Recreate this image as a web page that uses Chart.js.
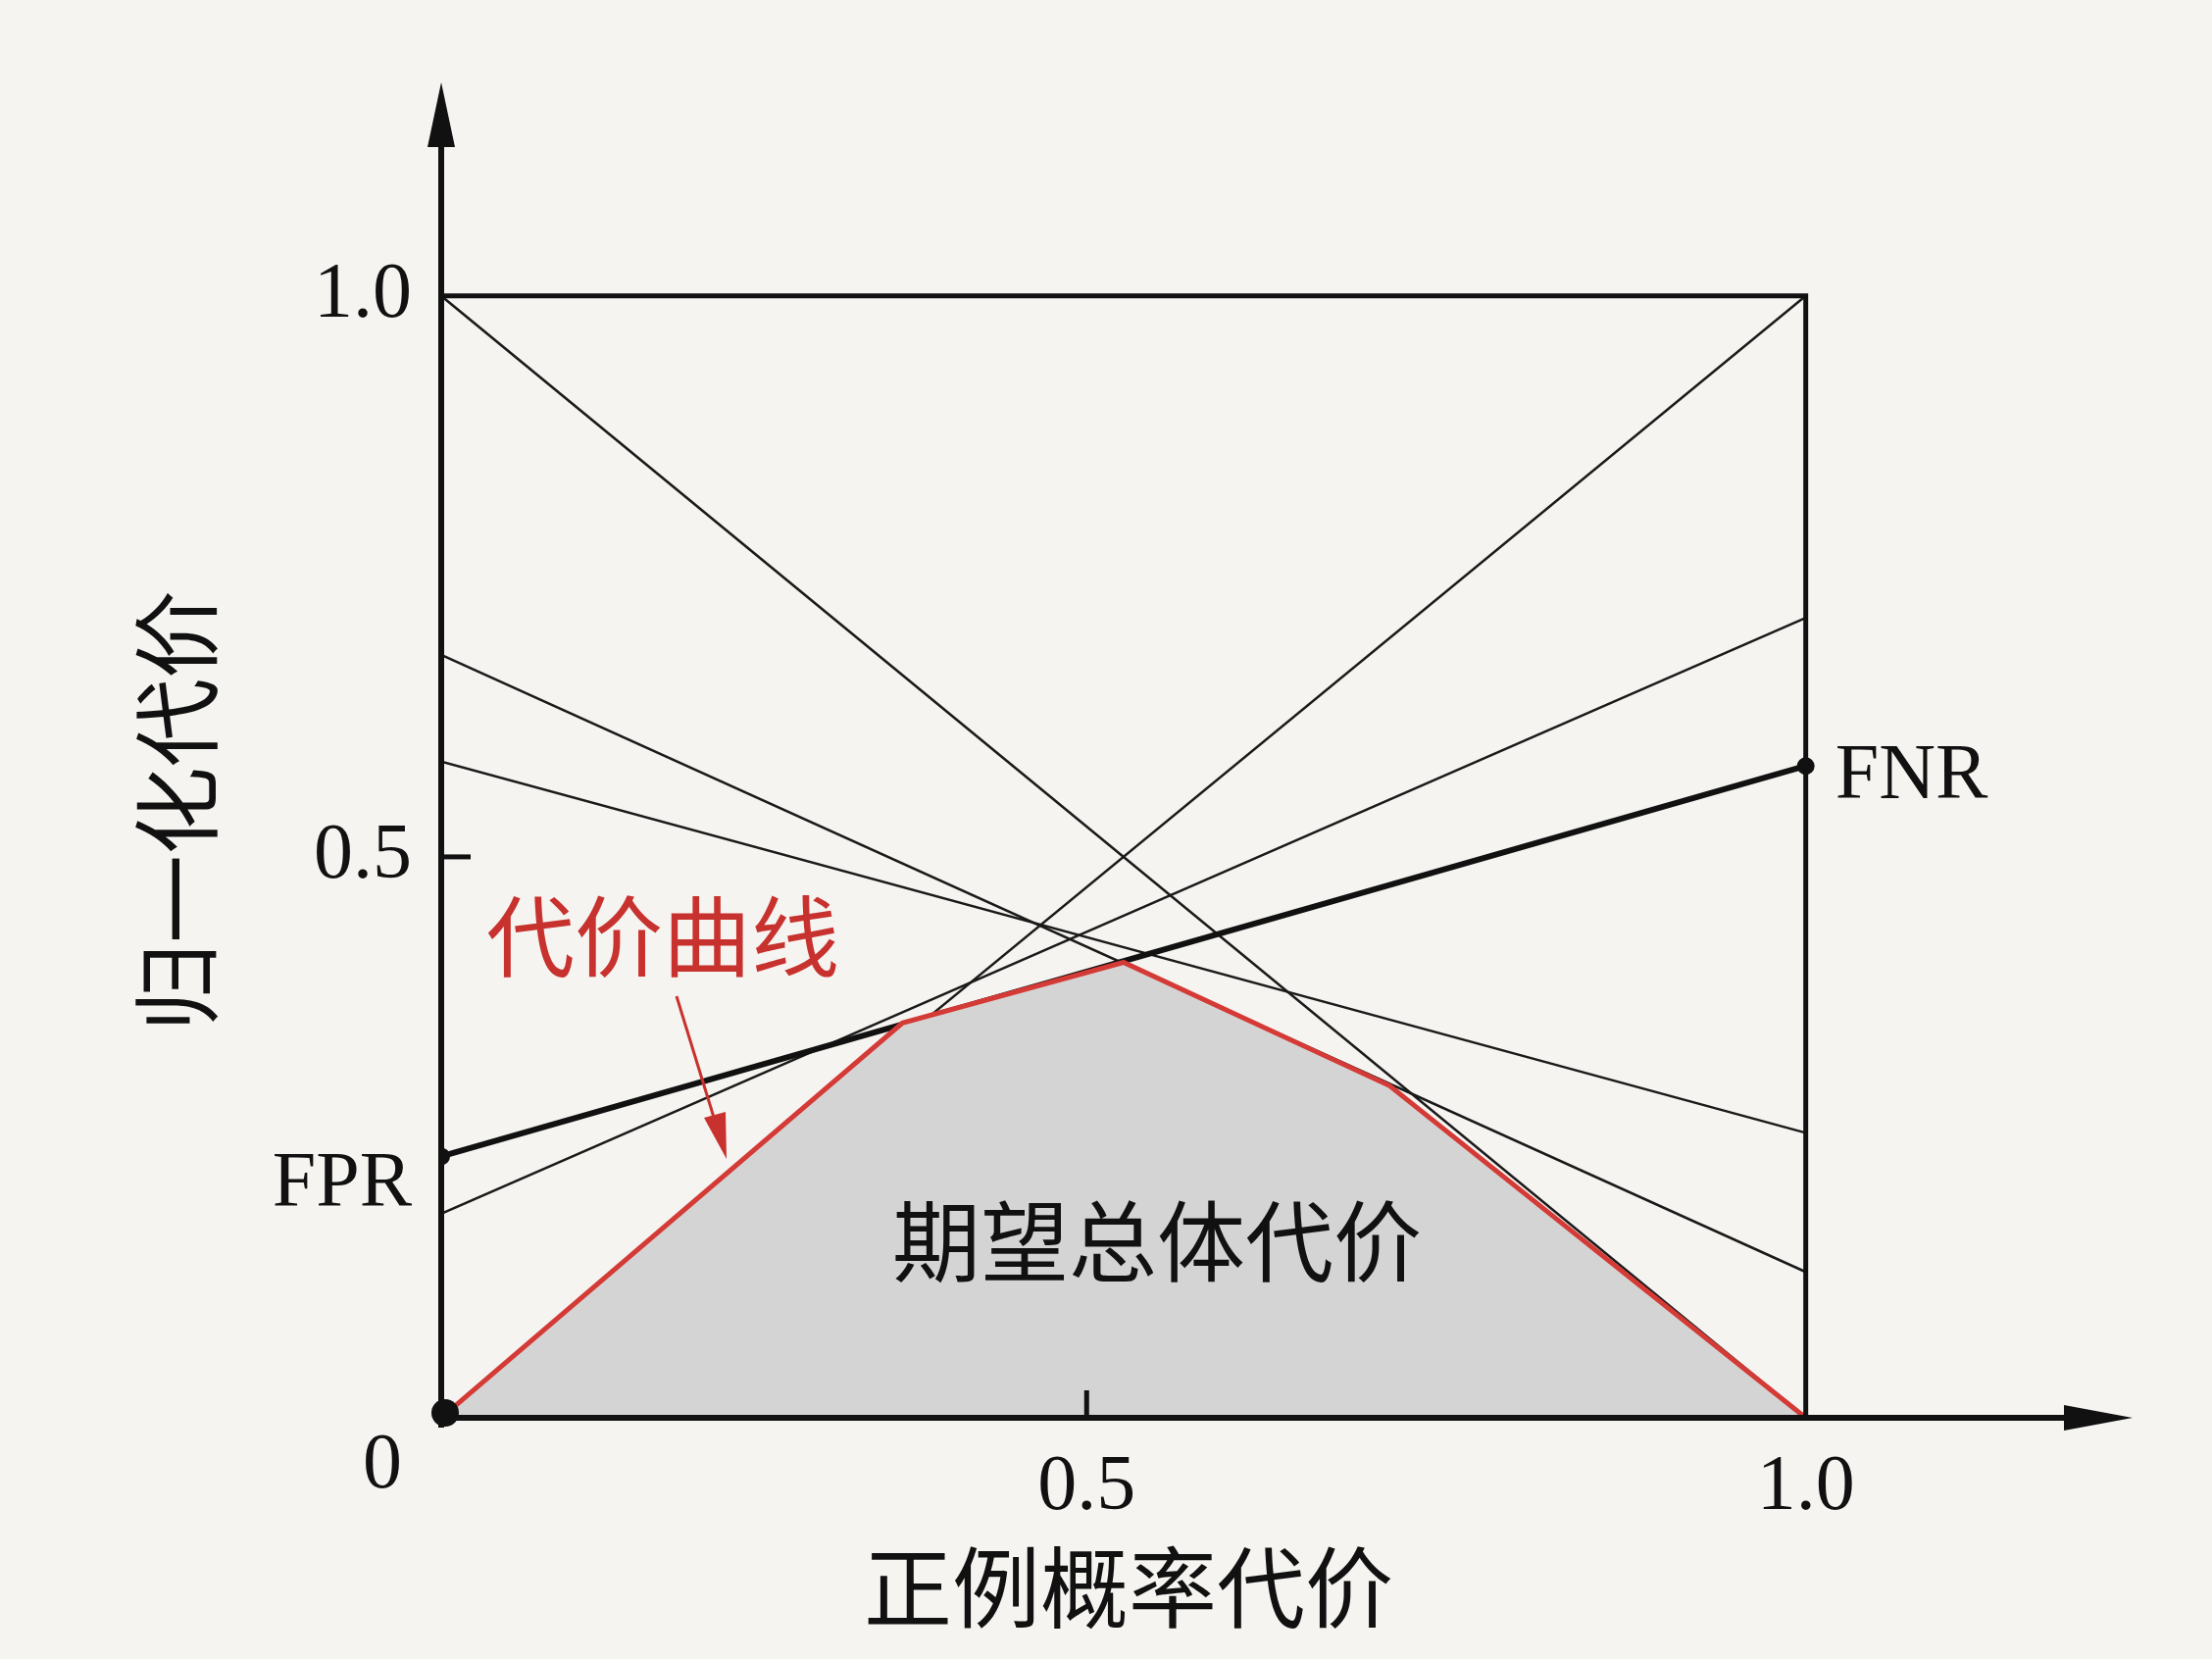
<!DOCTYPE html>
<html>
<head>
<meta charset="utf-8">
<script src="https://cdn.jsdelivr.net/npm/chart.js@4.4.1/dist/chart.umd.min.js"></script>
<style>
  html, body { margin: 0; padding: 0; background: #f5f4f1; }
  #wrap { width: 2256px; height: 1692px; }
</style>
</head>
<body>
<div id="wrap"><canvas id="c"></canvas></div>
<script>
// thin cost lines: [y at x=0, y at x=1]
const thinLines = [
    [1.0, 0.0],
    [0.0, 1.0],
    [0.68, 0.13],
    [0.585, 0.254],
    [0.182, 0.713]
];
// highlighted classifier (FPR -> FNR)
const fprValue = 0.233;
const fnrValue = 0.581;
// lower envelope: the cost curve
const curveX = [0, 0.338, 0.50, 0.695, 1.0];
const curveY = [0, 0.352, 0.406, 0.296, 0];
const xTicks = ['0.5', '1.0'];
const xTickVals = [0.473, 1.0];
const yTicks = ['1.0', '0.5'];
const yTickVals = [1.0, 0.5];

const datasets = [];
thinLines.forEach(l => datasets.push({
    data: [{x: 0, y: l[0]}, {x: 1, y: l[1]}],
    borderColor: '#1a1a1a', borderWidth: 2.5, pointRadius: 0, fill: false, order: 3
}));
datasets.push({
    data: [{x: 0, y: fprValue}, {x: 1, y: fnrValue}],
    borderColor: '#111', borderWidth: 6, pointRadius: 9,
    pointBackgroundColor: '#111', pointBorderWidth: 0, fill: false, order: 2
});
// cost curve drawn on top, its fill hides the lines underneath
datasets.push({
    data: curveX.map((x, i) => ({x, y: curveY[i]})),
    borderColor: '#d43a36', borderWidth: 5, fill: 'origin',
    backgroundColor: '#d5d4d4', pointRadius: 0, order: 1
});
// frame: top edge and right edge
datasets.push({
    data: [{x: 0, y: 1}, {x: 1, y: 1}, {x: 1, y: 0}],
    borderColor: '#111', borderWidth: 5, pointRadius: 0, fill: false, order: 0
});

const serif = '"Liberation Serif", "DejaVu Serif", serif';
const cjk = '"Noto Sans CJK SC", sans-serif';

const decor = {
    id: 'decor',
    afterDraw(chart) {
        const {ctx, scales: {x, y}} = chart;
        const x0 = x.getPixelForValue(0), y0 = y.getPixelForValue(0);
        ctx.save();
        ctx.strokeStyle = '#111'; ctx.fillStyle = '#111'; ctx.lineWidth = 6;
        // axes
        ctx.beginPath(); ctx.moveTo(x0, y0 + 10); ctx.lineTo(x0, 120); ctx.stroke();
        ctx.beginPath(); ctx.moveTo(x0 - 5, y0); ctx.lineTo(2140, y0); ctx.stroke();
        ctx.beginPath(); ctx.moveTo(x0, 84); ctx.lineTo(x0 - 14, 150); ctx.lineTo(x0 + 14, 150); ctx.fill();
        ctx.beginPath(); ctx.moveTo(2175, y0); ctx.lineTo(2105, y0 - 13); ctx.lineTo(2105, y0 + 13); ctx.fill();
        // origin dot
        ctx.beginPath(); ctx.arc(x0 + 4, y0 - 5, 14, 0, Math.PI * 2); ctx.fill();
        // ticks
        ctx.lineWidth = 5;
        const ym = y.getPixelForValue(0.5);
        ctx.beginPath(); ctx.moveTo(x0, ym); ctx.lineTo(x0 + 30, ym); ctx.stroke();
        const xm = x.getPixelForValue(xTickVals[0]);
        ctx.beginPath(); ctx.moveTo(xm, y0); ctx.lineTo(xm, y0 - 28); ctx.stroke();
        // tick labels
        ctx.font = '80px ' + serif; ctx.textBaseline = 'middle';
        ctx.textAlign = 'right';
        yTicks.forEach((t, i) => ctx.fillText(t, x0 - 30, y.getPixelForValue(yTickVals[i])));
        ctx.fillText('0', x0 - 40, y0 + 50);
        ctx.textAlign = 'center';
        xTicks.forEach((t, i) => ctx.fillText(t, x.getPixelForValue(xTickVals[i]), y0 + 72));
        ctx.textAlign = 'right';
        ctx.fillText('FPR', x0 - 30, y.getPixelForValue(fprValue) + 30);
        ctx.textAlign = 'left';
        ctx.fillText('FNR', x.getPixelForValue(1) + 30, y.getPixelForValue(fnrValue) + 12);
        // CJK labels
        ctx.font = '90px ' + cjk; ctx.textAlign = 'center';
        ctx.fillText('期望总体代价', 1180, 1266);
        ctx.fillText('正例概率代价', 1151, 1619);
        ctx.fillStyle = '#c8322e';
        ctx.fillText('代价曲线', 676, 955);
        ctx.strokeStyle = '#c8322e'; ctx.lineWidth = 3;
        ctx.beginPath(); ctx.moveTo(690, 1016); ctx.lineTo(738, 1172); ctx.stroke();
        ctx.beginPath(); ctx.moveTo(741, 1182); ctx.lineTo(718, 1140); ctx.lineTo(740, 1134); ctx.fill();
        ctx.fillStyle = '#111';
        ctx.translate(180, 827); ctx.rotate(-Math.PI / 2);
        ctx.fillText('归一化代价', 0, 0);
        ctx.restore();
    }
};

new Chart(document.getElementById('c'), {
    type: 'line',
    data: {datasets},
    options: {
        responsive: true, maintainAspectRatio: false, animation: false,
        layout: {padding: {left: 450, right: 136, top: 73, bottom: 246}},
        plugins: {legend: {display: false}, tooltip: {enabled: false}},
        scales: {
            x: {type: 'linear', min: 0, max: 1.2, display: false},
            y: {type: 'linear', min: 0, max: 1.2, display: false}
        }
    },
    plugins: [decor]
});
</script>
</body>
</html>
